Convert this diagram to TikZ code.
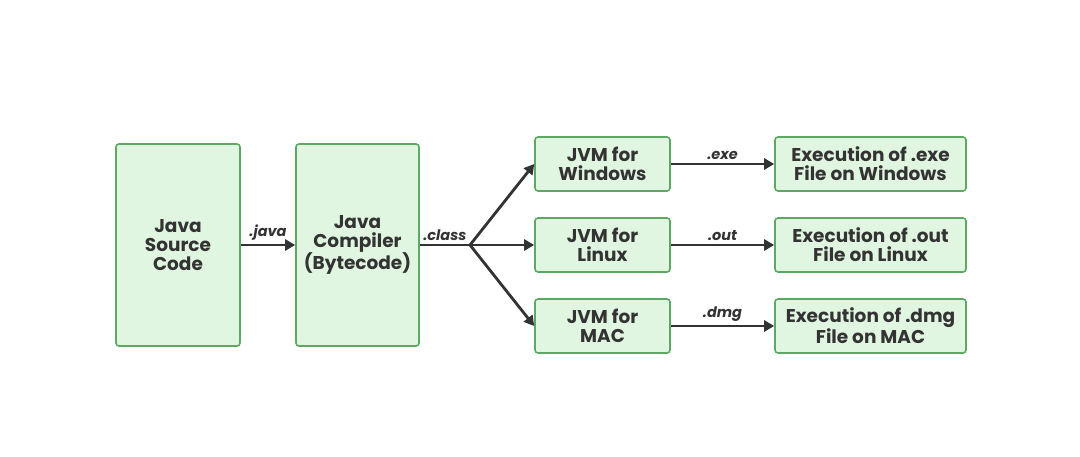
\documentclass[tikz,border=0pt]{standalone}
\usepackage{fontspec}
\setmainfont{Poppins}
\usetikzlibrary{arrows.meta}
\definecolor{boxfill}{HTML}{E1F6E1}
\definecolor{boxline}{HTML}{5DA863}
\definecolor{arrowgray}{HTML}{333333}
\begin{document}
\begin{tikzpicture}[x=1pt,y=-1pt,
		box/.style = {draw=boxline, fill=boxfill, line width=1.6pt, rounded corners=3pt, align=center, font=\fontsize{18.5}{19}\selectfont\bfseries, text=arrowgray, inner sep=0pt},
		flow/.style = {draw=arrowgray, line width=2.8pt, -{Triangle[length=10pt,width=11pt]}},
		ext/.style = {font=\fontsize{14.5}{16}\selectfont\itshape\bfseries, text=arrowgray}]
		\useasboundingbox[fill=white] (0,0) rectangle (1080,456);
		\node[box, minimum width=124pt, minimum height=202pt] (src) at (178,245) {Java\\Source\\Code};
		\node[box, minimum width=123pt, minimum height=202pt] (comp) at (357.5,245) {Java\\Compiler\\(Bytecode)};
		\node[box, minimum width=135pt, minimum height=54pt] (jwin) at (602.5,164) {JVM for\\Windows};
		\node[box, minimum width=135pt, minimum height=54pt] (jlin) at (602.5,245) {JVM for\\Linux};
		\node[box, minimum width=135pt, minimum height=54pt] (jmac) at (602.5,326) {JVM for\\MAC};
		\node[box, minimum width=191pt, minimum height=54pt] (ewin) at (870.5,164) {Execution of .exe\\File on Windows};
		\node[box, minimum width=191pt, minimum height=54pt] (elin) at (870.5,245) {Execution of .out\\File on Linux};
		\node[box, minimum width=191pt, minimum height=54pt] (emac) at (870.5,326) {Execution of .dmg\\File on MAC};
		\coordinate (fork) at (470,245);
		\draw[flow] (src) -- node[ext, above]{.java} (comp);
		\draw[draw=arrowgray, line width=2.8pt] (comp) -- node[ext, above]{.class} (fork);
		\draw[flow] (fork) -- (jwin.west);
		\draw[flow] (fork) -- (jlin);
		\draw[flow] (fork) -- (jmac.west);
		\draw[flow] (jwin) -- node[ext, above]{.exe} (ewin);
		\draw[flow] (jlin) -- node[ext, above]{.out} (elin);
		\draw[flow] (jmac) -- node[ext, above]{.dmg} (emac);
	\end{tikzpicture}
\end{document}
